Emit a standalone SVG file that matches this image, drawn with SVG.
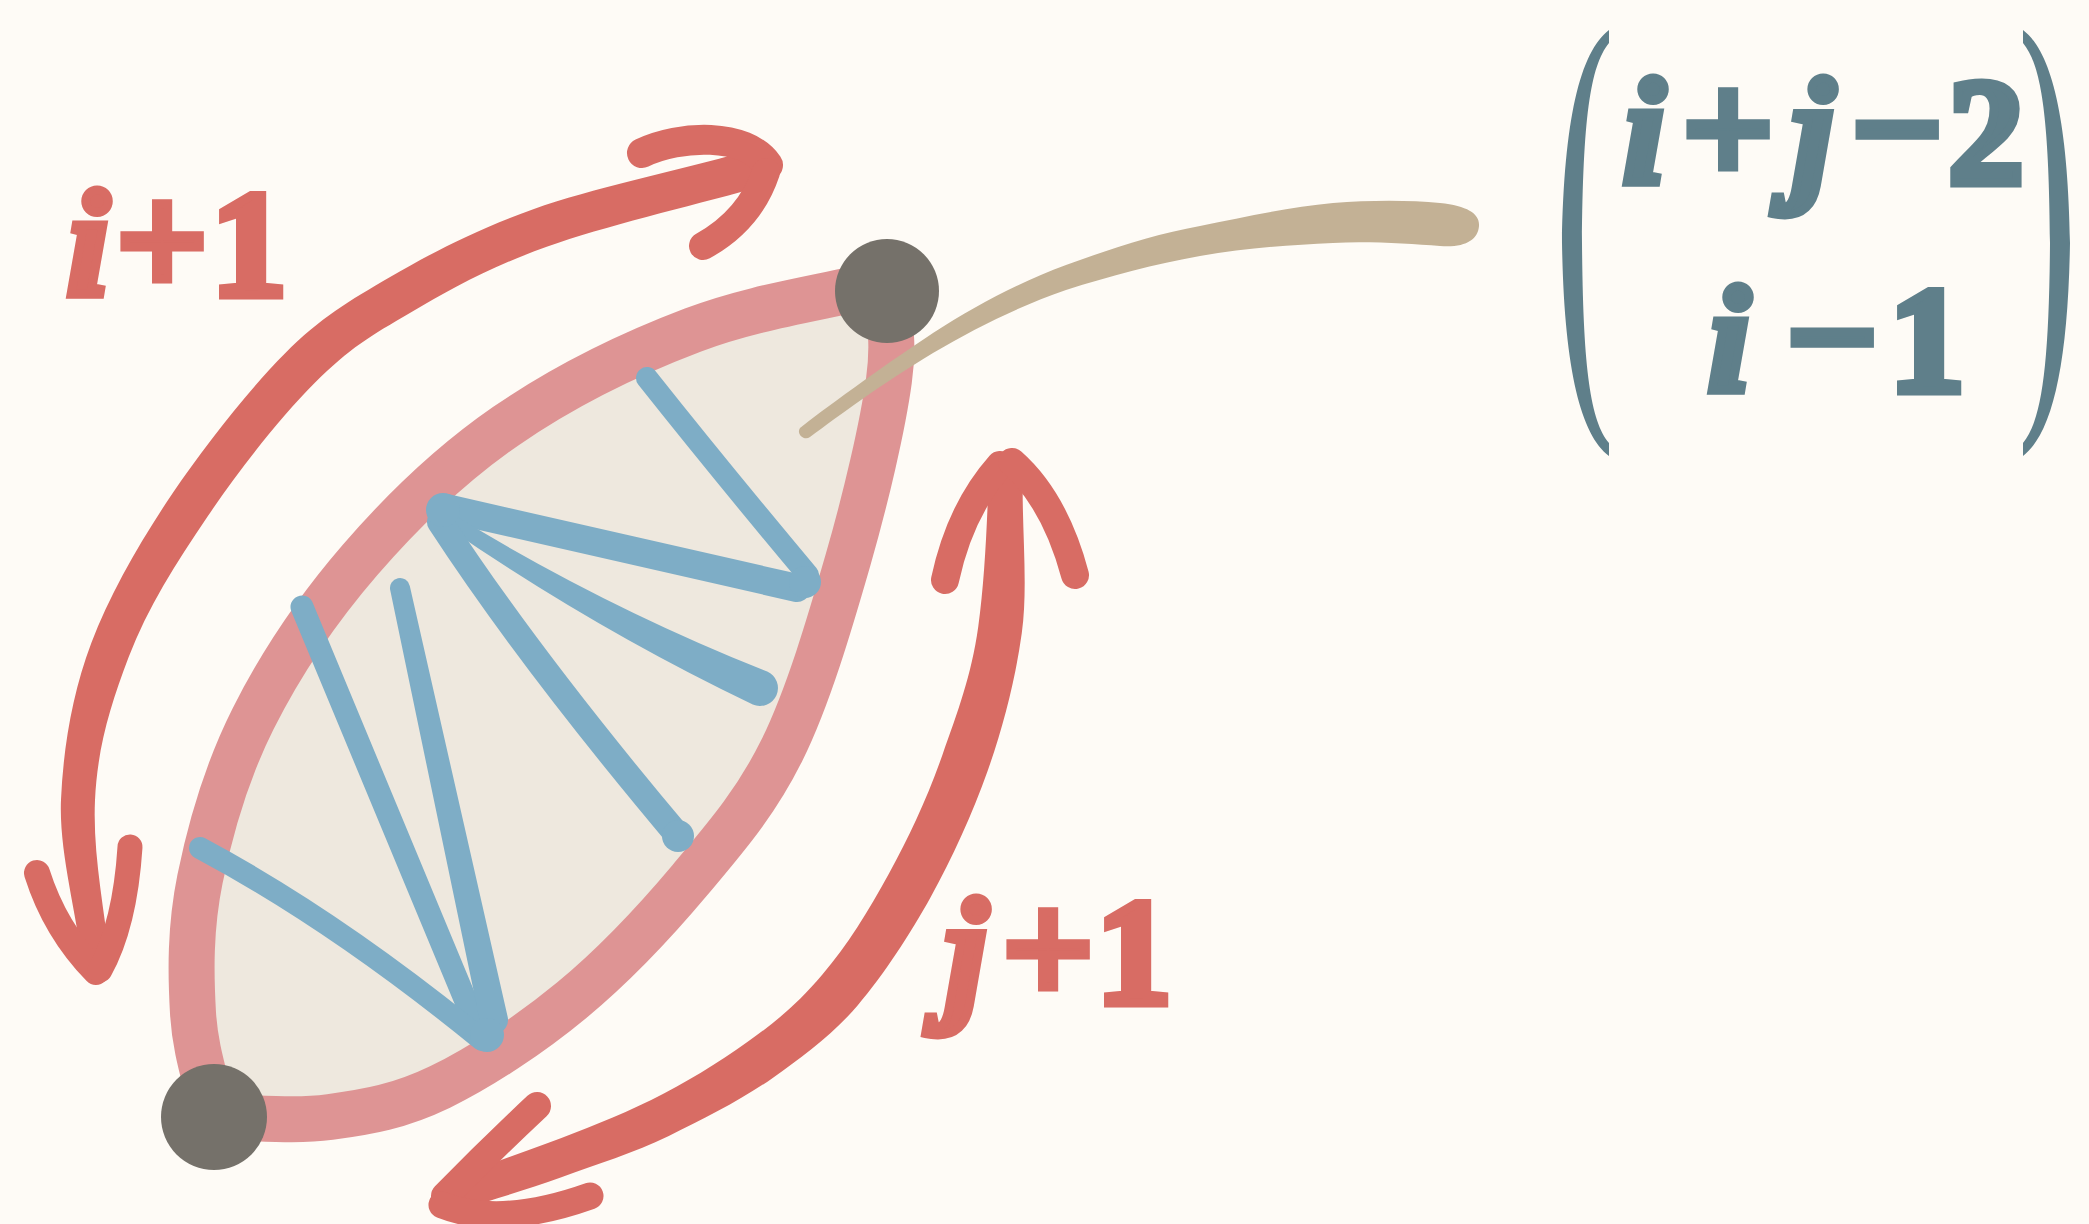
<svg xmlns="http://www.w3.org/2000/svg" width="2089" height="1224" viewBox="0 0 2089 1224">
<style>
.arrow{fill:none;stroke:#d86c64;stroke-linecap:round;stroke-linejoin:round}
.arrowf{fill:#d86c64}
.blue{fill:none;stroke:#7eadc6;stroke-linecap:round;stroke-linejoin:round}
.bluef{fill:#7eadc6}
.dot{fill:#75716a}
.red{fill:#d86c64;stroke:#d86c64}
.bin{fill:#5f7f8a}
.bint{fill:#5f7f8a;stroke:#5f7f8a}
.lbl{font-family:'Liberation Serif','Times New Roman',serif;font-weight:bold;font-size:150px;text-anchor:middle;stroke-width:9px;stroke-linejoin:miter}
.it{font-style:italic}
.op{font-size:160px}
</style>
<defs>
<path id="paren" d="M1609,30 C1580,52 1564,120 1562,243 C1564,366 1580,434 1609,456 L1609,443 C1590,420 1583,366 1582,243 C1583,120 1590,66 1609,43 Z"/>
</defs>
<rect x="0" y="0" width="2089" height="1224" fill="#fefbf6"/>

<g id="leaf">
<path d="M886,282 C821.7,298 756.3,306 693,330 C629.7,354 561.5,387.7 506,426 C450.5,464.3 402.2,511.2 360,560 C317.8,608.8 279.7,665.8 253,719 C226.3,772.2 210,830 200,879 C190,928 190.7,973.3 193,1013 C195.3,1052.7 207,1082.3 214,1117 C252.7,1117 292.3,1122 330,1117 C367.7,1112 399.7,1106.5 440,1087 C480.3,1067.5 530.3,1034.5 572,1000 C613.7,965.5 655,921.7 690,880 C725,838.3 755.7,803.3 782,750 C808.3,696.7 830.2,621.7 848,560 C865.8,498.3 882.7,426.3 889,380 C895.3,333.7 887,314.7 886,282 Z" fill="#eee8de" stroke="#de9494" stroke-width="46" stroke-linejoin="round"/>
</g>

<g id="zigzag">
<path class="blue" stroke-width="22" d="M647,378 Q720,470 808,575"/>
<path class="blue" stroke-width="28" d="M797,588 L446,508"/>
<circle class="bluef" cx="805" cy="582" r="16"/>
<path class="bluef" d="M455.8,516.1 Q605.6,607.4 767.2,671.5 A18,18 0 0 1 752.8,704.5 Q594.4,628.6 448.2,527.9 A7,7 0 0 1 455.8,516.1 Z"/>
<path class="blue" stroke-width="26" d="M440,522 Q530,660 680,838"/>
<circle class="bluef" cx="678" cy="836" r="16"/>
<circle class="bluef" cx="443" cy="510" r="17"/>
<path class="blue" stroke-width="23" d="M302,607 L480,1035"/>
<path class="bluef" d="M409.8,585.9 L507.7,1017 A14,14 0 0 1 480.3,1023 L390.2,590.1 A10,10 0 0 1 409.8,585.9 Z"/>
<path class="blue" stroke-width="22" d="M200,848 Q335,920 482,1040"/>
<circle class="bluef" cx="487" cy="1035" r="17"/>
</g>

<g id="tan">
<path fill="#c3b195" d="M800,428 C820,412 880,368 933,333 C975,306 1020,282 1066,265 C1110,249 1155,234 1200,226 C1245,217 1290,207 1333,203 C1370,200 1410,200 1440,203 C1468,206 1480,214 1479,226 C1478,240 1465,248 1440,246 C1410,244 1370,241 1333,243 C1290,245 1245,248 1200,256 C1155,264 1110,276 1066,290 C1020,306 975,328 933,353 C880,385 840,415 810,437 C804,441 796,434 800,428 Z"/>
</g>

<g id="node-top">
<circle class="dot" cx="887" cy="291" r="52"/>
</g>
<g id="node-bottom">
<circle class="dot" cx="214" cy="1117" r="53"/>
</g>

<g id="connectors">
<g id="arrow-i">
<path class="arrowf" d="M744.95,151.7 C674.95,171 591.58,188.36 533.28,209.16 C474.98,229.96 429.69,253.99 389.69,277.29 C349.69,300.59 320.15,318.15 285.15,353.15 C250.15,388.15 204.29,446.26 172.59,493.26 C140.89,540.26 110.02,593.7 91.32,642.9 C72.62,692.1 63.32,747.25 61.02,799.25 C58.72,851.25 76.08,909.54 82.08,963.54 A14,14 0 0 0 109.92,960.46 C103.92,906.46 92.68,852.75 94.98,800.75 C97.28,748.75 109.98,706.3 128.68,657.1 C147.38,607.9 175.71,563.74 207.41,516.74 C239.11,469.74 279.85,417.85 314.85,382.85 C349.85,347.85 370.31,336.01 410.31,312.71 C450.31,289.41 488.42,267.64 546.72,246.84 C605.02,226.04 685.05,207.6 755.05,188.3 A19,19 0 0 0 744.95,151.7 Z"/>
<path class="arrow" stroke-width="30" d="M642,153 C680,135 745,132 768,165"/>
<path class="arrow" stroke-width="28" d="M766,172 Q750,220 703,246"/>
<path class="arrow" stroke-width="26" d="M37,873 Q55,930 96,972"/>
<path class="arrow" stroke-width="25" d="M130,847 Q125,925 100,970"/>
</g>
<g id="arrow-j">
<path class="arrowf" d="M989,469.4 C987,522.7 985,578.2 978.2,627 C971.4,675.8 957.4,712.5 942.4,755 C927.4,797.5 909.8,835.6 889,873.4 C868.2,911.2 847.2,945.5 822.2,974.7 C797.2,1003.9 777.3,1020.8 747.3,1042.1 C717.3,1063.4 685.4,1083.3 651.2,1100 C617,1116.7 582.8,1130 548.6,1142.7 C514.4,1155.4 482.8,1166.6 449.5,1177.9 A17,17 0 0 0 460.5,1210.1 C493.8,1198.8 527.2,1190 561.4,1177.3 C595.6,1164.6 634.6,1152.7 668.8,1136 C703,1119.3 742.7,1099.2 772.7,1077.9 C802.7,1056.6 832.8,1034.5 857.8,1005.3 C882.8,976.1 910.2,934.4 931,896.6 C951.8,858.8 972.6,813.5 987.6,771 C1002.6,728.5 1015,681.8 1021.8,633 C1028.6,584.2 1021,523.9 1023,470.6 A17,17 0 0 0 989,469.4 Z"/>
<path class="arrow" stroke-width="28" d="M1000,465 Q960,510 945,580"/>
<path class="arrow" stroke-width="28" d="M1012,462 Q1055,500 1075,575"/>
<path class="arrow" stroke-width="28" d="M537,1106 Q490,1150 445,1196"/>
<path class="arrow" stroke-width="27" d="M442,1205 Q500,1228 590,1196"/>
</g>
</g>

<g id="label-i">
<text class="lbl red" y="295"><tspan class="it" x="88">i</tspan><tspan class="op" x="162">+</tspan><tspan x="249">1</tspan></text>
</g>
<g id="label-j">
<text class="lbl red" y="1003"><tspan class="it" x="966">j</tspan><tspan class="op" x="1048">+</tspan><tspan x="1134">1</tspan></text>
</g>

<g id="binomial">
<use href="#paren" class="bin"/>
<use href="#paren" class="bin" transform="translate(3632,0) scale(-1,1)"/>
<text class="lbl bint" y="183"><tspan class="it" x="1644">i</tspan><tspan class="op" x="1728">+</tspan><tspan class="it" x="1813">j</tspan><tspan class="op" x="1897">−</tspan><tspan x="1986">2</tspan></text>
<text class="lbl bint" y="391"><tspan class="it" x="1729">i</tspan><tspan class="op" x="1832">−</tspan><tspan x="1927">1</tspan></text>
</g>
</svg>
